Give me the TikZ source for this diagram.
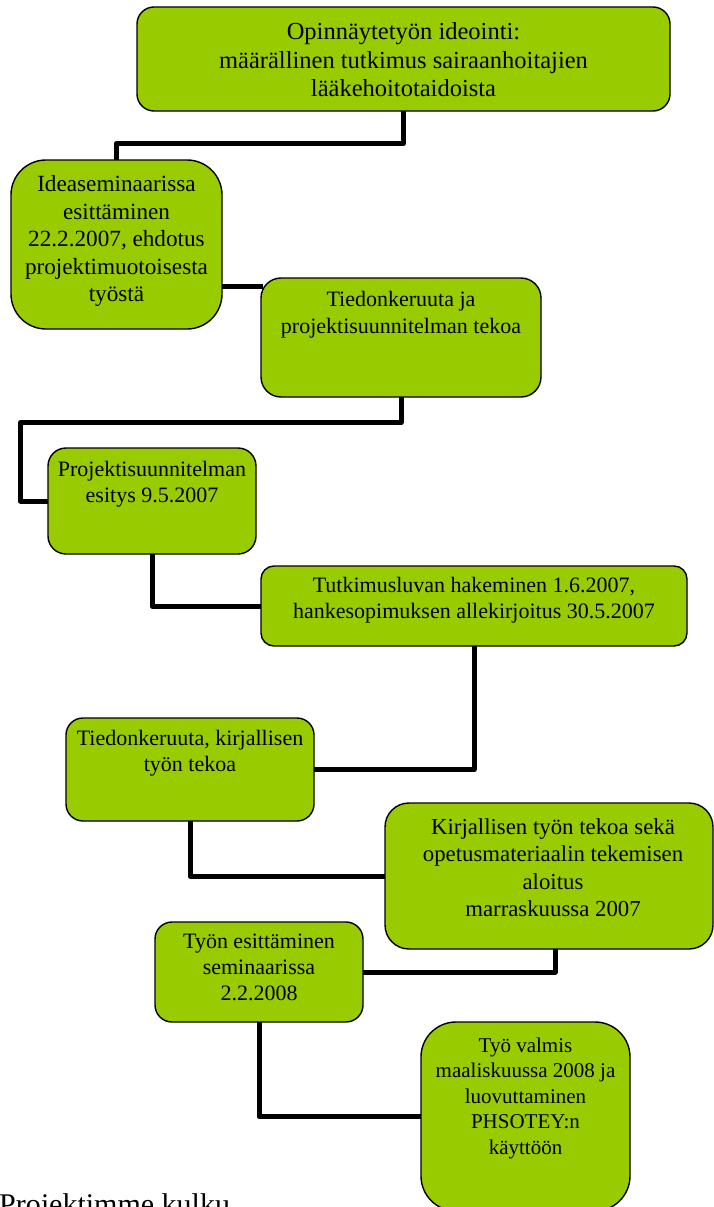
\documentclass[tikz,border=0pt]{standalone}
\usepackage{fontspec}
\setmainfont{Liberation Serif}
\definecolor{stagegreen}{RGB}{153,204,0}
\pgfdeclarelayer{background}
\pgfsetlayers{background,main}
\newcommand{\stagefont}[2]{\fontsize{#1}{#2}\selectfont}
\begin{document}
\begin{tikzpicture}[x=1pt,y=-1pt,
  stage/.style={draw=black, line width=1.4pt, fill=stagegreen,
    rounded corners=#1, inner sep=0pt},
  % anchored at the baseline of the last line
  stagetext/.style={anchor=base, align=center, inner sep=0pt},
  link/.style={draw=black, line width=5pt, line join=round, line cap=rect}]
\useasboundingbox (0,0) rectangle (714,1207);

% project stages
\node[stage=17pt, minimum width=533pt, minimum height=104pt] (b1) at (403.5,59) {};
\node[stage=35pt, minimum width=211pt, minimum height=169pt] (b2) at (116.5,244.5) {};
\node[stage=20pt, minimum width=280pt, minimum height=119pt] (b3) at (401,337.5) {};
\node[stage=18pt, minimum width=208pt, minimum height=106pt] (b4) at (152,501) {};
\node[stage=13pt, minimum width=426pt, minimum height=80pt] (b5) at (474,606) {};
\node[stage=17pt, minimum width=248pt, minimum height=103pt] (b6) at (190,769.5) {};
\node[stage=24pt, minimum width=328pt, minimum height=146pt] (b7) at (549,876) {};
\node[stage=17pt, minimum width=208pt, minimum height=100pt] (b8) at (259,972) {};
\node[stage=35pt, minimum width=209pt, minimum height=189pt] (b9) at (525.5,1116.5) {};

% stage texts
\node[stagetext, font=\stagefont{24.5}{28.5}] (t1) at (403.5,96.5) {Opinnäytetyön ideointi:\\määrällinen tutkimus sairaanhoitajien\\lääkehoitotaidoista};
\node[stagetext, font=\stagefont{23.2}{27.5}] (t2) at (116.5,301.5) {Ideaseminaarissa\\esittäminen\\22.2.2007, ehdotus\\projektimuotoisesta\\työstä};
\node[stagetext, font=\stagefont{22}{26.5}] (t3) at (401,333) {Tiedonkeruuta ja\\projektisuunnitelman tekoa};
\node[stagetext, font=\stagefont{22}{26}] (t4) at (152,502) {Projektisuunnitelman\\esitys 9.5.2007};
\node[stagetext, font=\stagefont{22}{25.5}] (t5) at (474,618) {Tutkimusluvan hakeminen 1.6.2007,\\hankesopimuksen allekirjoitus 30.5.2007};
\node[stagetext, font=\stagefont{22}{26.5}] (t6) at (190,771.5) {Tiedonkeruuta, kirjallisen\\työn tekoa};
\node[stagetext, font=\stagefont{22.8}{27.6}] (t7) at (553,916.8) {Kirjallisen työn tekoa sekä\\opetusmateriaalin tekemisen\\aloitus\\marraskuussa 2007};
\node[stagetext, font=\stagefont{22}{26}] (t8) at (259,1000) {Työn esittäminen\\seminaarissa\\2.2.2008};
\node[stagetext, font=\stagefont{21}{25.4}] (t9) at (525.5,1154) {Työ valmis\\maaliskuussa 2008 ja\\luovuttaminen\\PHSOTEY:n\\käyttöön};

% caption
\node[anchor=base west, inner sep=0pt, font=\stagefont{30}{36}] (cap) at (-1,1214) {Projektimme kulku};

% bend points of the connectors
\coordinate (j1) at (0,143.5);
\coordinate (j2) at (0,286);
\coordinate (j3) at (20.5,422.5);
\coordinate (j7) at (555,0);

\begin{pgfonlayer}{background}
\draw[link] (b1.south) -- (b1.south |- j1) -| (b2.north);
\draw[link] (b2.east |- j2) -- (b3.west |- j2);
\draw[link] (b3.south) |- (j3) |- (b4.west);
\draw[link] (b4.south) |- (b5.west);
\draw[link] (b5.south) |- (b6.east);
\draw[link] (b6.south) |- (b7.west);
\draw[link] (b7.south -| j7) |- (b8.east);
\draw[link] (b8.south) |- (b9.west);
\end{pgfonlayer}
\end{tikzpicture}
\end{document}
